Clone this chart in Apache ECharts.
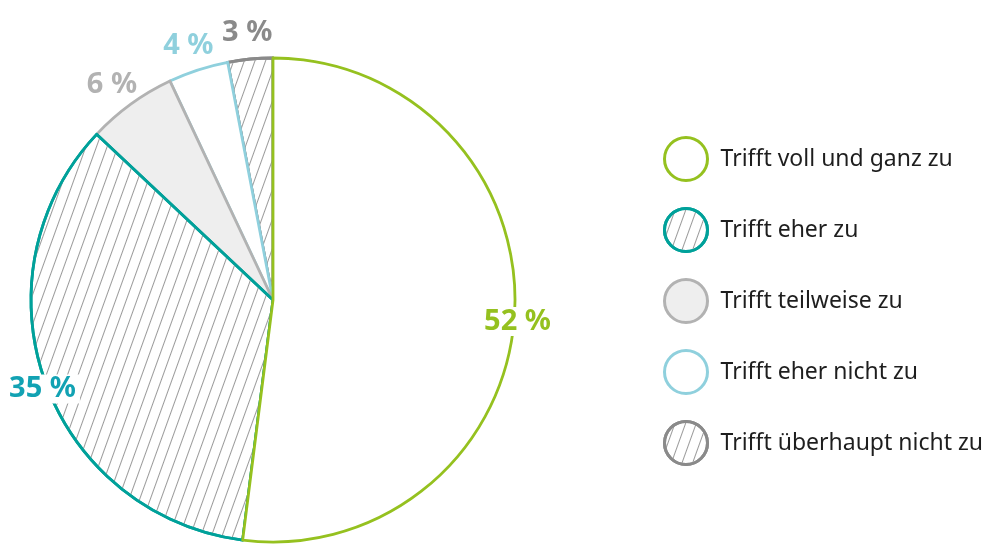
<!DOCTYPE html>
<html>
<head>
<meta charset="utf-8">
<style>
  html, body { margin: 0; padding: 0; background: #fff; }
  #chart { width: 1005px; height: 544px; }
</style>
<script src="https://cdn.jsdelivr.net/npm/echarts@6/dist/echarts.min.js"></script>
</head>
<body>
<div id="chart"></div>
<script>
const categories = [
  'Trifft voll und ganz zu',
  'Trifft eher zu',
  'Trifft teilweise zu',
  'Trifft eher nicht zu',
  'Trifft überhaupt nicht zu'
]
const values = [52, 35, 6, 4, 3]

const borderColors = ['#95c11f', '#00a19a', '#b2b2b2', '#8fd0dd', '#8a8a8a']
const fillColors = ['#ffffff', '#ffffff', '#eeeeee', '#ffffff', '#ffffff']
const labelColors = ['#95c11f', '#12a2b3', '#b2b2b2', '#8fd0dd', '#8a8a8a']
const hatched = [false, true, false, false, true]

const hatch = {
  symbol: 'rect',
  symbolSize: 1,
  color: '#9a9a9a',
  dashArrayX: [1, 0],
  dashArrayY: [1, 8.5],
  rotation: -Math.PI * 0.39
}

const center = [273, 300]
const radius = 242

// reversed + counterclockwise so the big slice's outline is painted on top
const order = values.map((v, i) => i).reverse()

const pieData = order.map(i => ({
  name: categories[i],
  value: values[i],
  itemStyle: {
    color: fillColors[i],
    borderColor: borderColors[i],
    borderWidth: 2.8,
    decal: hatched[i] ? hatch : null
  }
}))

function labelData(showIf) {
  return order.map(i => ({
    name: categories[i],
    value: values[i],
    label: { show: showIf(values[i]), color: labelColors[i] }
  }))
}

const labelStyle = {
  position: 'inside',
  formatter: '{c} %',
  fontFamily: 'Noto Sans',
  fontWeight: 'bold',
  fontSize: 29,
  backgroundColor: '#fff',
  padding: [0, 4],
  offset: [0, 6]
}

const chart = echarts.init(document.getElementById('chart'))
chart.setOption({
  animation: false,
  legend: {
    orient: 'vertical',
    left: 658,
    top: 131,
    icon: 'circle',
    itemWidth: 43,
    itemHeight: 43,
    itemGap: 25,
    selectedMode: false,
    data: categories,
    itemStyle: { borderWidth: 3 },
    textStyle: {
      fontFamily: 'Noto Sans',
      fontSize: 23,
      color: '#1e1e1e',
      padding: [0, 0, 0, 8]
    }
  },
  series: [
    {
      type: 'pie',
      center: center,
      radius: radius,
      startAngle: 90,
      clockwise: false,
      silent: true,
      label: { show: false },
      labelLine: { show: false },
      data: pieData
    },
    {
      type: 'pie',
      center: center,
      radius: [radius - 30, radius + 30],
      startAngle: 90,
      clockwise: false,
      silent: true,
      itemStyle: { color: 'rgba(0,0,0,0)' },
      label: labelStyle,
      labelLine: { show: false },
      data: labelData(v => v >= 10)
    },
    {
      type: 'pie',
      center: center,
      radius: [radius + 2, radius + 56],
      startAngle: 90,
      clockwise: false,
      silent: true,
      itemStyle: { color: 'rgba(0,0,0,0)' },
      label: Object.assign({}, labelStyle, { backgroundColor: 'transparent' }),
      labelLine: { show: false },
      data: labelData(v => v < 10)
    }
  ]
})
</script>
</body>
</html>
